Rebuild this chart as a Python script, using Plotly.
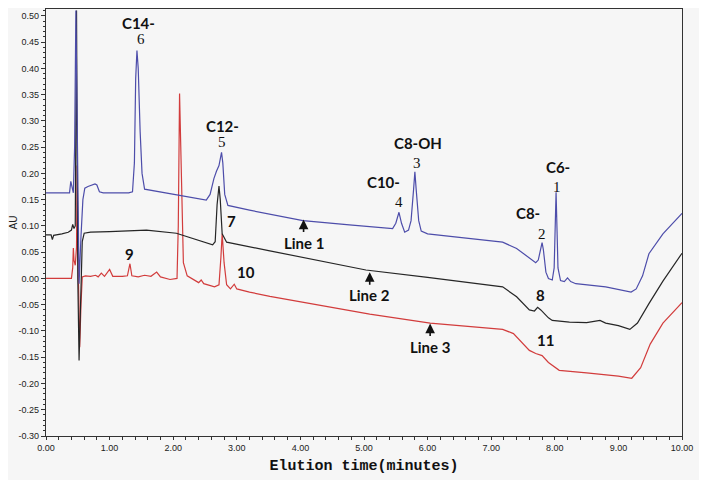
import plotly.graph_objects as go

# Line 1 (blue)
x_blue = [0.00, 0.37, 0.39, 0.41, 0.43, 0.45, 0.47, 0.49, 0.52, 0.55, 0.58, 0.61, 0.66, 0.77, 0.80,
          0.84, 0.90, 1.30, 1.36, 1.39, 1.41, 1.43, 1.45, 1.48, 1.51, 1.55, 2.00, 2.52, 2.58, 2.64,
          2.68, 2.72, 2.76, 2.78, 2.81, 2.86, 3.20, 4.04, 4.77, 5.45, 5.50, 5.55, 5.59, 5.64, 5.70,
          5.74, 5.78, 5.80, 5.82, 5.86, 5.90, 6.00, 6.50, 7.00, 7.18, 7.40, 7.60, 7.70, 7.74, 7.78,
          7.80, 7.82, 7.86, 7.90, 7.96, 7.99, 8.02, 8.05, 8.09, 8.15, 8.20, 8.25, 8.33, 8.80, 9.20,
          9.28, 9.38, 9.48, 9.70, 10.00]
y_blue = [0.163, 0.163, 0.185, 0.170, 0.163, 0.250, 0.510, 0.300, -0.010, 0.080, 0.150, 0.172, 0.175, 0.180, 0.178,
          0.165, 0.163, 0.163, 0.165, 0.220, 0.380, 0.434, 0.400, 0.280, 0.200, 0.170, 0.160, 0.149, 0.160, 0.190,
          0.204, 0.215, 0.240, 0.220, 0.160, 0.139, 0.130, 0.110, 0.102, 0.095, 0.105, 0.126, 0.105, 0.088, 0.092,
          0.110, 0.170, 0.203, 0.170, 0.110, 0.090, 0.085, 0.078, 0.072, 0.069, 0.057, 0.040, 0.030, 0.035, 0.060,
          0.068, 0.055, 0.012, 0.000, -0.003, 0.020, 0.164, 0.020, -0.004, -0.006, 0.001, -0.006, -0.010, -0.016, -0.026,
          -0.020, 0.005, 0.047, 0.085, 0.124]

# Line 2 (black)
x_black = [0.00, 0.08, 0.10, 0.12, 0.25, 0.35, 0.40, 0.42, 0.44, 0.46, 0.48, 0.50, 0.52, 0.55, 0.57,
           0.60, 0.70, 1.00, 1.58, 2.05, 2.40, 2.62, 2.66, 2.69, 2.72, 2.74, 2.77, 2.84, 3.50, 4.00,
           5.03, 6.00, 7.18, 7.40, 7.60, 7.68, 7.73, 7.78, 7.90, 7.96, 8.23, 8.50, 8.71, 8.80, 9.00,
           9.18, 9.30, 9.48, 9.70, 10.00]
y_black = [0.083, 0.083, 0.074, 0.082, 0.085, 0.088, 0.092, 0.103, 0.095, 0.100, 0.510, 0.000, -0.156, 0.000, 0.070,
           0.086, 0.088, 0.089, 0.092, 0.086, 0.073, 0.064, 0.070, 0.140, 0.176, 0.150, 0.085, 0.069, 0.053, 0.041,
           0.016, 0.002, -0.016, -0.035, -0.060, -0.062, -0.055, -0.060, -0.075, -0.080, -0.083, -0.084, -0.080, -0.085, -0.090,
           -0.097, -0.085, -0.048, -0.005, 0.048]

# Line 3 (red)
x_red = [0.00, 0.40, 0.42, 0.43, 0.44, 0.46, 0.48, 0.49, 0.51, 0.53, 0.55, 0.57, 0.62, 0.70, 0.78,
         0.82, 0.87, 0.92, 1.00, 1.05, 1.20, 1.28, 1.32, 1.35, 1.45, 1.55, 1.65, 1.74, 1.80, 1.95,
         2.06, 2.08, 2.10, 2.13, 2.16, 2.22, 2.35, 2.40, 2.44, 2.48, 2.65, 2.72, 2.75, 2.77, 2.80,
         2.84, 2.90, 2.96, 3.00, 3.20, 3.52, 4.00, 5.09, 6.04, 7.00, 7.18, 7.35, 7.50, 7.60, 7.70,
         7.80, 7.90, 8.07, 8.50, 9.00, 9.21, 9.35, 9.50, 9.70, 10.00]
y_red = [0.000, 0.000, 0.020, 0.058, 0.035, 0.025, 0.060, 0.215, 0.000, -0.131, -0.050, 0.003, 0.005, 0.004, 0.006,
         0.003, 0.010, 0.004, 0.017, 0.004, 0.004, 0.005, 0.028, 0.005, 0.003, 0.006, 0.004, 0.012, 0.003, -0.002,
         0.000, 0.100, 0.352, 0.200, 0.030, 0.005, -0.005, -0.008, -0.003, -0.010, -0.016, -0.012, 0.040, 0.085, 0.030,
         -0.012, -0.020, -0.011, -0.020, -0.026, -0.034, -0.044, -0.068, -0.085, -0.096, -0.097, -0.105, -0.125, -0.137, -0.143,
         -0.147, -0.160, -0.175, -0.180, -0.186, -0.190, -0.170, -0.125, -0.085, -0.046]

# peak labels: (text, x, y, style)
peak_labels = [
    ("C14-", 1.46, 0.486, "bold"), ("6", 1.50, 0.455, "serif"),
    ("C12-", 2.78, 0.290, "bold"), ("5", 2.76, 0.260, "serif"),
    ("C10-", 5.31, 0.183, "bold"), ("4", 5.55, 0.145, "serif"),
    ("C8-OH", 5.85, 0.258, "bold"), ("3", 5.83, 0.220, "serif"),
    ("C6-", 8.05, 0.212, "bold"), ("1", 8.03, 0.174, "serif"),
    ("C8-", 7.58, 0.124, "bold"), ("2", 7.80, 0.085, "serif"),
    ("7", 2.92, 0.109, "bold"), ("9", 1.32, 0.047, "bold"),
    ("10", 3.15, 0.012, "bold"), ("8", 7.77, -0.032, "bold"),
    ("11", 7.86, -0.118, "bold"),
]
# line arrows: (text, tip x, tip y)
line_labels = [("Line 1", 4.05, 0.112), ("Line 2", 5.09, 0.012), ("Line 3", 6.04, -0.086)]

x_ticks = [0, 1, 2, 3, 4, 5, 6, 7, 8, 9, 10]
x_ticktext = ["0.00", "1.00", "2.00", "3.00", "4.00", "5.00", "6.00", "7.00", "8.00", "9.00", "10.00"]
y_ticks = [0.50, 0.45, 0.40, 0.35, 0.30, 0.25, 0.20, 0.15, 0.10, 0.05, 0.00,
           -0.05, -0.10, -0.15, -0.20, -0.25, -0.30]
y_ticktext = ["%.2f" % v if v >= 0 else "-%.2f" % -v for v in y_ticks]

fig = go.Figure()
fig.add_trace(go.Scatter(x=x_red, y=y_red, mode="lines", line=dict(color="#d23c3c", width=1.2)))
fig.add_trace(go.Scatter(x=x_black, y=y_black, mode="lines", line=dict(color="#262626", width=1.2)))
fig.add_trace(go.Scatter(x=x_blue, y=y_blue, mode="lines", line=dict(color="#4d4daa", width=1.2)))

for text, x, y, style in peak_labels:
    if style == "serif":
        font = dict(family="Liberation Serif", size=15, color="#111")
        t = text
    else:
        font = dict(family="Lato", size=15, color="#111")
        t = "<b>%s</b>" % text
    fig.add_annotation(x=x, y=y, text=t, showarrow=False, font=font)

for text, x, y in line_labels:
    fig.add_annotation(x=x, y=y, text="<b>%s</b>" % text, showarrow=True,
                       ax=0, ay=23, arrowhead=2, arrowsize=1.2, arrowwidth=1.6,
                       arrowcolor="#111", standoff=0,
                       font=dict(family="Lato", size=15, color="#111"))

# the page body has an 8px default margin, so the figure is sized to fit inside the window
fig.update_layout(
    width=699, height=472,
    margin=dict(l=38, r=25, t=1, b=44),
    paper_bgcolor="#f6f6f6", plot_bgcolor="#f6f6f6",
    showlegend=False,
    font=dict(family="Liberation Sans", size=9, color="#222"),
)
fig.update_xaxes(
    range=[0, 10], tickvals=x_ticks, ticktext=x_ticktext, automargin=False,
    showgrid=False, zeroline=False, showline=True, linecolor="#333", linewidth=1.2, mirror=True,
    ticks="outside", ticklen=3, tickcolor="#333",
    minor=dict(dtick=0.2, ticks="outside", ticklen=3, tickcolor="#333", showgrid=False),
    title=dict(text="<b>Elution time(minutes)</b>", font=dict(family="Liberation Mono", size=15, color="#111"), standoff=7),
)
fig.update_yaxes(
    range=[-0.30, 0.513], tickvals=y_ticks, ticktext=y_ticktext, automargin=False,
    showgrid=False, zeroline=False, showline=True, linecolor="#333", linewidth=1.2, mirror=True,
    ticks="outside", ticklen=4, tickcolor="#333",
    minor=dict(dtick=0.01, tick0=0, ticks="outside", ticklen=2, tickcolor="#333", showgrid=False),
    title=dict(text="AU", font=dict(family="Liberation Sans", size=10, color="#222"), standoff=1),
)

fig.write_html("out.html")
